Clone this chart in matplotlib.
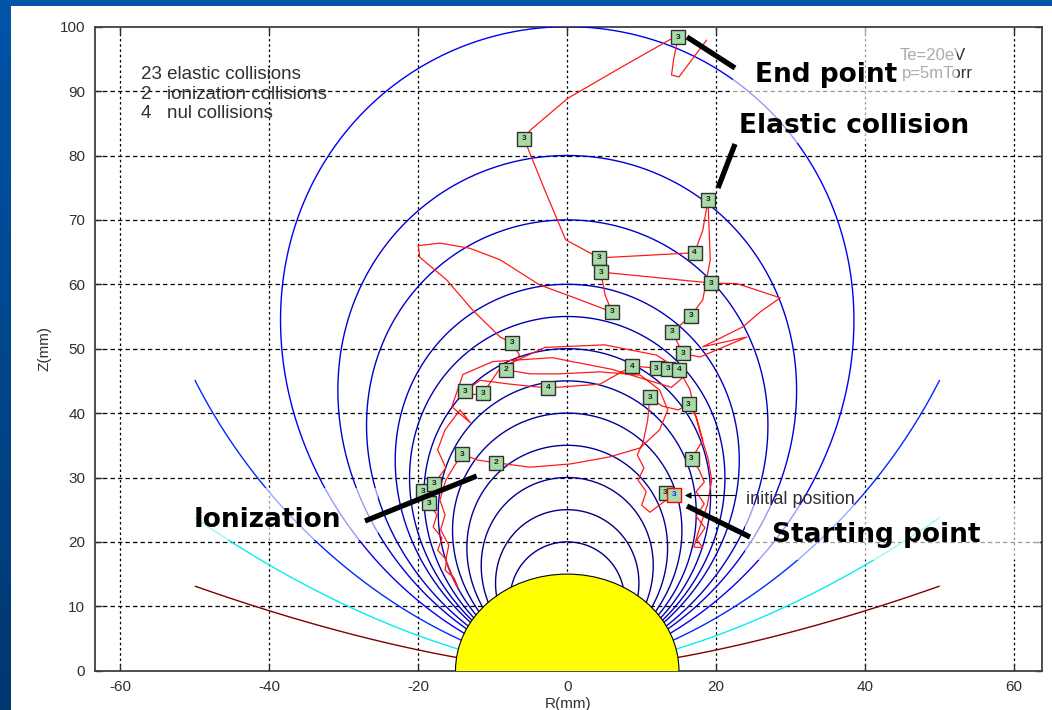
import numpy as np
import matplotlib
matplotlib.use('Agg')
import matplotlib.pyplot as plt
from matplotlib.patches import Circle, Rectangle
from matplotlib.colors import Normalize

plt.rcParams['font.family'] = ['Liberation Sans', 'DejaVu Sans']
plt.rcParams['axes.unicode_minus'] = False

# ---------------- data ----------------
# field-line labels (apex height, mm) of the drawn magnetic field lines
field_levels = [20, 25, 30, 35, 40, 45, 50, 55, 60, 70, 80, 100, 150, 300, 800]
sphere_radius = 15.0

# electron trajectory (R, Z in mm)
traj_R = [14.2, 12.7, 11.1, 10.0, 10.6, 9.5, 10.3, 9.4, 10.2, 10.8,
          11.1, 12.7, 14.9, 16.3, 17.4, 18.2, 16.7,
          17.7, 18.4, 17.3, 18.4, 17.3, 18.5, 17.4, 18.2, 17.0, 17.7, 18.8, 19.4, 18.9, 17.8, 17.1, 16.5,
          15.0, 13.5, 12.0, 8.7, 4.4, -2.6, -7.7, -11.7, -13.7, -13.1, -11.3,
          -9.0, -3.0, 5.0, 12.0, 16.0, 14.0, 6.0, -2.0, -10.0, -14.0, -15.5, -13.0,
          -14.4, -16.4, -17.4, -16.3, -17.9, -19.4, -18.6,
          -17.5, -18.0, -16.8, -17.4, -16.2, -16.4, -15.2, -14.7,
          -15.5, -16.3, -15.9, -17.0, -16.4, -17.1, -16.3, -15.1,
          -14.1, -12.0, -9.6, -5.0, 0.4, 5.7, 9.8, 12.4, 13.5, 12.4, 9.8, 4.4, -1.0, -5.0, -8.2,
          -6.4, -7.4, -9.0, -12.7, -16.2, -19.8, -20.0, -17.1, -13.1, -9.0, -3.7, 1.0, 6.0,
          5.1, 4.5, 19.3, 22.8, 28.6, 25.9, 23.6, 18.2, 24.1, 17.8, 15.5, 14.1, 16.6, 18.2, 19.2,
          18.9, 18.2, 17.1, 4.3, -0.2, -3.0, -5.8, -5.0, 0.1, 7.1, 13.8, 14.9, 14.3, 14.0, 15.0, 18.7]
traj_Z = [27.3, 26.0, 24.6, 25.7, 27.8, 29.6, 31.5, 33.5, 35.5, 38.9,
          42.5, 41.1, 40.5, 41.4, 39.2, 35.8, 32.9,
          31.2, 29.3, 27.8, 25.9, 24.0, 22.2, 20.3, 19.1, 19.2, 21.9, 25.7, 29.6, 33.0, 37.1, 40.2, 43.6,
          46.7, 46.9, 47.0, 47.3, 44.5, 43.9, 44.5, 45.1, 43.4, 42.8, 43.1,
          47.0, 50.2, 50.6, 49.0, 46.0, 44.0, 46.8, 48.6, 48.0, 46.0, 41.0, 38.5,
          40.5, 37.4, 34.3, 31.5, 29.0, 27.9, 26.0,
          24.2, 22.3, 20.6, 18.7, 17.2, 15.6, 14.4, 13.0,
          14.9, 17.2, 19.5, 21.9, 24.2, 26.5, 29.6, 31.9,
          33.6, 32.7, 32.3, 31.6, 32.1, 33.2, 34.6, 37.4, 40.5, 43.6, 45.9, 46.4, 46.1, 46.1, 46.7,
          49.0, 50.9, 51.8, 56.0, 60.7, 64.2, 66.0, 66.4, 65.6, 63.8, 59.9, 57.9, 55.7,
          58.3, 61.9, 60.2, 60.1, 57.9, 55.7, 53.4, 50.3, 51.8, 48.7, 49.3, 52.6, 55.1, 57.6, 63.8,
          73.1, 68.4, 64.9, 64.1, 66.9, 74.6, 82.6, 83.9, 88.9, 93.6, 98.0, 98.4, 95.0, 92.5, 92.2, 97.9]

# collisions
elastic_R = [14.9, -5.8, 18.9, 4.3, 4.5, 19.3, 6.0, 16.6, 14.1, -7.4, 15.5, 12.0,
             13.5, -13.7, -11.3, 11.1, 16.3, -14.1, 16.7, -19.4, -17.9, -18.6, 13.2]
elastic_Z = [98.4, 82.6, 73.1, 64.1, 61.9, 60.2, 55.7, 55.1, 52.6, 50.9, 49.3, 47.0,
             46.9, 43.4, 43.1, 42.5, 41.4, 33.6, 32.9, 27.9, 29.0, 26.0, 27.6]
ionization_R = [-8.2, -9.6]
ionization_Z = [46.7, 32.3]
nul_R = [17.1, 8.7, 15.0, -2.6]
nul_Z = [64.9, 47.3, 46.7, 43.9]
init_R = [14.3]
init_Z = [27.3]

x_ticks = [-60, -40, -20, 0, 20, 40, 60]
y_ticks = [0, 10, 20, 30, 40, 50, 60, 70, 80, 90, 100]

# ---------------- figure ----------------
W, H = 1052, 710
fig = plt.figure(figsize=(W / 100, H / 100), dpi=100)
fig.patch.set_facecolor('white')

# slide background
bg = fig.add_axes([0, 0, 1, 1], zorder=0)
bg.set_xlim(0, W); bg.set_ylim(H, 0); bg.axis('off')
top_c = np.array([0.0, 0.33, 0.66])
bot_c = np.array([0.0, 0.22, 0.44])
t = np.linspace(0, 1, 256)[:, None, None]
grad = (1 - t) * top_c + t * bot_c
grad = np.repeat(grad, 2, axis=1)
bg.imshow(grad, extent=[0, 11, H, 0], aspect='auto', interpolation='bilinear')
bg.add_patch(Rectangle((0, 0), W, 6, facecolor=top_c, edgecolor='none'))
bg.add_patch(Rectangle((11, 6), W - 11, H - 6, facecolor='white', edgecolor='none'))
bg.set_xlim(0, W); bg.set_ylim(H, 0)

# main axes
px_left, px_right, px_top, px_bot = 95, 1041.7, 26.7, 670.7
ax = fig.add_axes([px_left / W, 1 - px_bot / H, (px_right - px_left) / W, (px_bot - px_top) / H], zorder=1)
ax.set_xlim(-63.4, 63.7)
ax.set_ylim(0, 100)

# field lines
rr = np.linspace(-50, 50, 1201)
zz = np.linspace(0.05, 100.5, 1201)
RG, ZG = np.meshgrid(rr, zz)
F = (RG ** 2 + ZG ** 2) ** 1.5 / ZG ** 2
ax.contour(RG, ZG, F, levels=field_levels, cmap='jet', norm=Normalize(20, 800),
           linewidths=1.0, zorder=3)

# target sphere
ax.add_patch(Circle((0, 0), sphere_radius, facecolor='#ffff00', edgecolor='black', lw=0.8, zorder=4))

# trajectory
ax.plot(traj_R, traj_Z, color='#ff1a1a', lw=0.9, zorder=5)

mk = dict(marker='s', ms=10, mfc='#a9dba9', mec='#303030', mew=1.0, ls='none', zorder=6)
ax.plot(elastic_R, elastic_Z, **mk)
ax.plot(ionization_R, ionization_Z, **mk)
ax.plot(nul_R, nul_Z, **mk)
ax.plot(init_R, init_Z, marker='s', ms=10, mfc='#a9dba9', mec='red', mew=1.0, ls='none', zorder=6)
for r, z in zip(elastic_R, elastic_Z):
    ax.text(r, z, '3', ha='center', va='center', fontsize=6, fontweight='bold', color='#202020', zorder=7)
for r, z in zip(ionization_R, ionization_Z):
    ax.text(r, z, '2', ha='center', va='center', fontsize=6, fontweight='bold', color='#202020', zorder=7)
for r, z in zip(nul_R, nul_Z):
    ax.text(r, z, '4', ha='center', va='center', fontsize=6, fontweight='bold', color='#202020', zorder=7)
for r, z in zip(init_R, init_Z):
    ax.text(r, z, '3', ha='center', va='center', fontsize=6, fontweight='bold', color='#1030ff', zorder=7)

# grid / axes style
ax.set_xticks(x_ticks)
ax.set_yticks(y_ticks)
for x in x_ticks:
    ax.axvline(x, color='black', lw=0.9, ls=(0, (2, 2.2)), zorder=1)
for y in y_ticks[1:-1]:
    ax.axhline(y, color='black', lw=0.9, ls=(0, (3.5, 2.5)), zorder=1)
ax.tick_params(direction='in', length=5, top=True, right=True, labelsize=11,
               colors='#303030', pad=7, width=1.0)
for s in ax.spines.values():
    s.set_color('#404040'); s.set_linewidth(1.3)
ax.set_xlabel('R(mm)', fontsize=11, color='#303030', labelpad=2)
ax.set_ylabel('Z(mm)', fontsize=11, color='#303030', labelpad=6)

# overlay in pixel coordinates for slide annotations
ov = fig.add_axes([0, 0, 1, 1], zorder=3)
ov.set_xlim(0, W); ov.set_ylim(H, 0); ov.axis('off')
ov.patch.set_alpha(0)

txt = dict(fontsize=13.5, color='#303030', va='baseline', ha='left', zorder=1)
ov.text(141, 79.3, '23 elastic collisions', **txt)
ov.text(141, 98.7, '2', **txt)
ov.text(167, 98.7, 'ionization collisions', **txt)
ov.text(141, 118.3, '4', **txt)
ov.text(167, 118.3, 'nul collisions', **txt)
ov.text(900, 60, 'Te=20eV', fontsize=12, color='#303030', va='baseline', zorder=1)
ov.text(902, 78.3, 'p=5mTorr', fontsize=12, color='#303030', va='baseline', zorder=1)

# translucent text boxes of the slide
for (x0, y0, x1, y1) in [(733, 28, 957, 143), (190, 488, 378, 540), (745, 505, 1040, 560)]:
    ov.add_patch(Rectangle((x0, y0), x1 - x0, y1 - y0, facecolor='white', alpha=0.6,
                           edgecolor='none', zorder=2))

big = dict(fontsize=19, fontweight='bold', color='black', va='baseline', ha='left',
           family='DejaVu Sans', zorder=4)
ov.text(755, 81.7, 'End point', **big)
ov.text(739, 133.3, 'Elastic collision', **big)
ov.text(194, 526.7, 'Ionization', **big)
ov.text(772, 541.7, 'Starting point', **big)

lw_ptr = 3.8
for (xa, ya, xb, yb) in [(687, 37, 735, 68), (735, 144, 718, 188), (476.7, 476, 365, 521), (687, 506, 750, 537)]:
    ov.plot([xa, xb], [ya, yb], color='black', lw=lw_ptr, solid_capstyle='butt', zorder=4)

ov.annotate('', xy=(682, 495.5), xytext=(738, 495.5),
            arrowprops=dict(arrowstyle='-|>', color='black', lw=0.8, mutation_scale=9), zorder=4)
ov.text(746, 504, 'initial position', fontsize=13, color='#303030', va='baseline', zorder=4)

fig.savefig('out.png', dpi=100)
